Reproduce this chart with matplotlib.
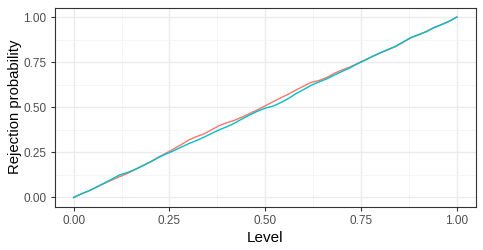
import matplotlib
matplotlib.use('Agg')
import matplotlib.pyplot as plt

# levels at which the rejection probability was estimated
level = [i / 50 for i in range(51)]

# two series (red and teal)
reject_red = [
    0.000, 0.020, 0.037, 0.058, 0.078, 0.097, 0.115, 0.133, 0.155, 0.177,
    0.198, 0.222, 0.244, 0.268, 0.292, 0.318, 0.337, 0.352, 0.375, 0.398,
    0.414, 0.428, 0.446, 0.466, 0.486, 0.508, 0.530, 0.552, 0.572, 0.595,
    0.617, 0.638, 0.648, 0.664, 0.688, 0.706, 0.722, 0.742, 0.762, 0.782,
    0.800, 0.818, 0.836, 0.860, 0.885, 0.902, 0.920, 0.942, 0.958, 0.977,
    1.000,
]
reject_teal = [
    0.000, 0.020, 0.037, 0.058, 0.080, 0.102, 0.125, 0.138, 0.155, 0.175,
    0.196, 0.220, 0.240, 0.258, 0.278, 0.298, 0.315, 0.334, 0.355, 0.375,
    0.392, 0.412, 0.436, 0.458, 0.478, 0.495, 0.506, 0.525, 0.548, 0.575,
    0.598, 0.622, 0.640, 0.657, 0.678, 0.698, 0.717, 0.740, 0.760, 0.782,
    0.802, 0.820, 0.838, 0.862, 0.886, 0.902, 0.918, 0.940, 0.958, 0.976,
    1.000,
]

ticks = [0.0, 0.25, 0.5, 0.75, 1.0]
tick_labels = ['0.00', '0.25', '0.50', '0.75', '1.00']


def main():
    plt.rcParams['font.family'] = ['Liberation Sans', 'DejaVu Sans']
    fig = plt.figure(figsize=(4.83, 2.5), dpi=100)
    ax = fig.add_axes([54.5 / 483, 1 - 206.5 / 250, (476 - 54.5) / 483, (206.5 - 8) / 250])

    ax.plot(level, reject_red, color='#F8766D', lw=1.0, zorder=3)
    ax.plot(level, reject_teal, color='#00BFC4', lw=1.0, zorder=4)

    ax.set_xlim(-0.05, 1.05)
    ax.set_ylim(-0.05, 1.05)
    ax.set_xticks(ticks)
    ax.set_xticklabels(tick_labels)
    ax.set_yticks(ticks)
    ax.set_yticklabels(tick_labels)
    ax.set_xticks([0.125, 0.375, 0.625, 0.875], minor=True)
    ax.set_yticks([0.125, 0.375, 0.625, 0.875], minor=True)

    ax.grid(True, which='major', color='#EBEBEB', lw=1.0)
    ax.grid(True, which='minor', color='#F2F2F2', lw=0.5)
    ax.set_axisbelow(True)
    for s in ax.spines.values():
        s.set_color('#333333')
        s.set_linewidth(0.8)

    ax.tick_params(which='major', length=3, width=0.8, color='#333333',
                   labelsize=8.5, labelcolor='#4D4D4D', pad=3)
    ax.tick_params(which='minor', length=0)

    ax.set_xlabel('Level', fontsize=11, labelpad=3)
    ax.set_ylabel('Rejection probability', fontsize=10.7, labelpad=1)

    fig.savefig('out.png', dpi=100)


if __name__ == '__main__':
    main()
